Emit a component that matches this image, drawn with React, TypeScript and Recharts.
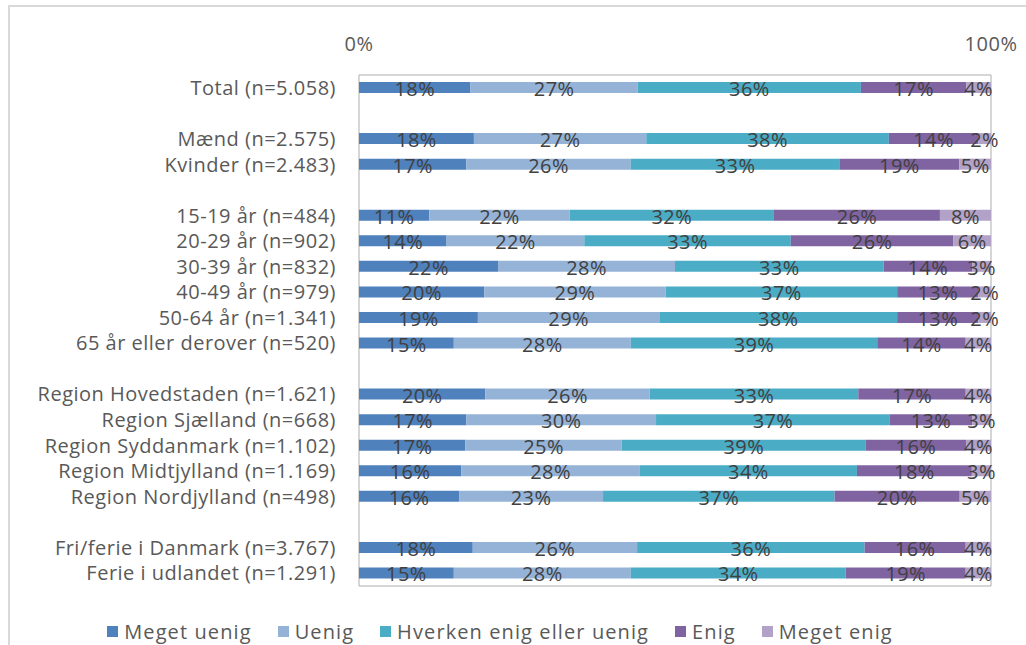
import React from 'react';
import { BarChart, Bar, XAxis, YAxis, LabelList, Legend, ReferenceArea } from 'recharts';

const categories = [
  'Total (n=5.058)',
  ' ',
  'Mænd (n=2.575)',
  'Kvinder (n=2.483)',
  '  ',
  '15-19 år (n=484)',
  '20-29 år (n=902)',
  '30-39 år (n=832)',
  '40-49 år (n=979)',
  '50-64 år (n=1.341)',
  '65 år eller derover (n=520)',
  '   ',
  'Region Hovedstaden (n=1.621)',
  'Region Sjælland (n=668)',
  'Region Syddanmark (n=1.102)',
  'Region Midtjylland (n=1.169)',
  'Region Nordjylland (n=498)',
  '    ',
  'Fri/ferie i Danmark (n=3.767)',
  'Ferie i udlandet (n=1.291)',
];

const megetUenig = [18, null, 18, 17, null, 11, 14, 22, 20, 19, 15, null, 20, 17, 17, 16, 16, null, 18, 15];
const uenig = [27, null, 27, 26, null, 22, 22, 28, 29, 29, 28, null, 26, 30, 25, 28, 23, null, 26, 28];
const hverken = [36, null, 38, 33, null, 32, 33, 33, 37, 38, 39, null, 33, 37, 39, 34, 37, null, 36, 34];
const enig = [17, null, 14, 19, null, 26, 26, 14, 13, 13, 14, null, 17, 13, 16, 18, 20, null, 16, 19];
const megetEnig = [4, null, 2, 5, null, 8, 6, 3, 2, 2, 4, null, 4, 3, 4, 3, 5, null, 4, 4];

const seriesNames = ['Meget uenig', 'Uenig', 'Hverken enig eller uenig', 'Enig', 'Meget enig'];
const seriesKeys = ['megetUenig', 'uenig', 'hverken', 'enig', 'megetEnig'];
const seriesColors = ['#4f81bd', '#95b3d7', '#4bacc6', '#8064a2', '#b3a2c7'];
const axisTicks = [0, 1];

const data = categories.map((name, i) => ({
  name,
  megetUenig: megetUenig[i],
  uenig: uenig[i],
  hverken: hverken[i],
  enig: enig[i],
  megetEnig: megetEnig[i],
}));

const FONT = '"Open Sans", sans-serif';
const textStyle = { fill: '#595959', fontSize: 20, fontFamily: FONT, letterSpacing: 0.5 };

const renderLabel = (props: any) => {
  const { x, y, width, height, value } = props;
  if (value == null) return null;
  return (
    <text
      x={x + width / 2}
      y={y + height / 2 + 1}
      textAnchor="middle"
      dominantBaseline="central"
      fill="#404040"
      fontSize={20}
      fontFamily={FONT}
      letterSpacing={0.4}
    >
      {value}%
    </text>
  );
};

// legend built from the series lists so the order follows the stack
const renderLegend = () => (
  <div style={{ display: 'flex', justifyContent: 'center', height: 24, alignItems: 'center' }}>
    {seriesNames.map((n, i) => (
      <div key={n} style={{ display: 'flex', alignItems: 'center', marginRight: i < seriesNames.length - 1 ? 26 : 0 }}>
        <span style={{ width: 11, height: 11, background: seriesColors[i], display: 'inline-block', marginRight: 6 }} />
        <span style={{ fontFamily: FONT, fontSize: 20, color: '#595959', letterSpacing: 1.1 }}>{n}</span>
      </div>
    ))}
  </div>
);

export default function App() {
  return (
    <div style={{ position: 'absolute', left: 0, top: 0, width: 1026, height: 645, overflow: 'hidden', background: '#fff' }}>
      <div
        style={{
          position: 'absolute',
          left: 8,
          top: 5,
          width: 1030,
          height: 650,
          borderLeft: '2px solid #d9d9d9',
          borderTop: '2px solid #d9d9d9',
        }}
      />
      <div style={{ position: 'absolute', left: 0, top: 0 }}>
        <BarChart
          width={1026}
          height={645}
          data={data}
          layout="vertical"
          stackOffset="expand"
          margin={{ top: 45, right: 35, bottom: 35, left: 0 }}
        >
          <XAxis
            type="number"
            orientation="top"
            domain={[0, 1]}
            ticks={axisTicks}
            tickFormatter={(v: number) => `${Math.round(v * 100)}%`}
            axisLine={false}
            tickLine={false}
            tickSize={0}
            tickMargin={24}
            height={30}
            tick={textStyle}
          />
          <YAxis
            type="category"
            dataKey="name"
            width={359}
            interval={0}
            axisLine={false}
            tickLine={false}
            tickSize={0}
            tickMargin={23}
            tick={textStyle}
          />
          <ReferenceArea x1={0} x2={1} fill="none" stroke="#adadad" strokeWidth={1} />
          {seriesKeys.map((k, i) => (
            <Bar
              key={k}
              dataKey={k}
              name={seriesNames[i]}
              stackId="a"
              fill={seriesColors[i]}
              barSize={11}
              isAnimationActive={false}
            >
              <LabelList dataKey={k} content={renderLabel} />
            </Bar>
          ))}
          <Legend verticalAlign="bottom" content={renderLegend} wrapperStyle={{ left: 0, width: 1000, bottom: 2 }} />
        </BarChart>
      </div>
    </div>
  );
}
